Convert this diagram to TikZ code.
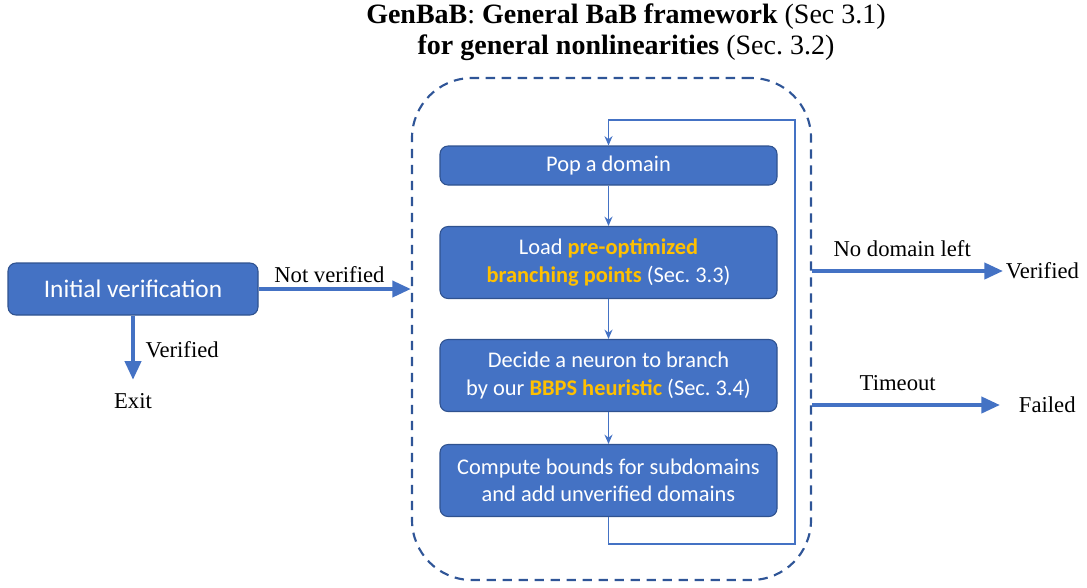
\documentclass[tikz,border=0pt]{standalone}
\usepackage{fontspec}
\setmainfont{Liberation Serif}
\newfontfamily\boxfont{Carlito}
\usetikzlibrary{arrows.meta,positioning}
\definecolor{boxblue}{HTML}{4472C4}
\definecolor{edgeblue}{HTML}{2F528F}
\definecolor{framecol}{HTML}{2F5597}
\definecolor{hl}{HTML}{FFC000}
\newcommand{\hlt}[1]{\textcolor{hl}{\bfseries #1}}
\frenchspacing

\tikzset{
  blk/.style={draw=edgeblue, line width=0.8pt, fill=boxblue, rounded corners=6pt,
    text=white, align=center, inner sep=0pt,
    font=\boxfont\fontsize{16.8}{20.5}\selectfont},
  inblk/.style={blk, minimum width=252.75pt},
  thinarr/.style={draw=boxblue, line width=1.3pt, -{Stealth[length=7pt,width=6pt]}},
  thickarr/.style={draw=boxblue, line width=3pt, -{Triangle[length=14pt,width=12pt]}},
  lbl/.style={font=\fontsize{17}{20}\selectfont, inner sep=2pt},
}

\begin{document}
\begin{tikzpicture}[x=0.75pt,y=-0.75pt]
  \useasboundingbox (0,0) rectangle (1087,587);

  \node[font=\fontsize{21}{23}\selectfont, align=center] (title) at (626,32)
    {\textbf{GenBaB}: \textbf{General BaB framework} (Sec 3.1)\\
     \textbf{for general nonlinearities} (Sec. 3.2)};

  \node[draw=framecol, line width=1.6pt, dash pattern=on 7pt off 5pt,
        rounded corners=45pt, minimum width=299.25pt, minimum height=376.5pt]
        (frame) at (611.5,329) {};

  \node[blk, minimum width=187.5pt, minimum height=39pt,
        font=\boxfont\fontsize{19}{22}\selectfont] (init) at (133,289) {Initial verification};
  \node[lbl] (exit) at (133,401) {Exit};

  \node[inblk, minimum height=29.25pt] (pop) at (608.5,165.5) {Pop a domain};
  \node[inblk, minimum height=54pt] (load) at (608.5,262.5)
    {Load \hlt{pre-optimized}\\ \hlt{branching points} (Sec. 3.3)};
  \node[inblk, minimum height=54pt] (decide) at (608.5,375.5)
    {Decide a neuron to branch\\ by our \hlt{BBPS heuristic} (Sec. 3.4)};
  \node[inblk, minimum height=54pt] (comp) at (608.5,480.5)
    {Compute bounds for subdomains\\ and add unverified domains};

  \node[lbl, anchor=west] (ver) at (1003,271) {Verified};
  \node[lbl, anchor=west] (fail) at (1016,405) {Failed};

  \coordinate (loop) at (795,120);

  \draw[thickarr] (init.east) -- (frame.west |- init.east)
    node[lbl, midway, above, xshift=-4pt, yshift=1pt] {Not verified};
  \draw[thickarr, shorten >=8pt] (init.south) -- (exit.north)
    node[lbl, pos=0.45, right, xshift=6pt] {Verified};

  \path[thinarr] (pop) edge (load) (load) edge (decide) (decide) edge (comp);
  \draw[thinarr] (comp.south) -- ++(0,27) -| (loop) -| (pop.north);

  \draw[thickarr] (frame.east |- ver.west) -- (ver.west)
    node[lbl, midway, above, xshift=-4pt, yshift=7pt] {No domain left};
  \draw[thickarr, shorten >=12pt] (frame.east |- fail.west) -- (fail.west)
    node[lbl, pos=0.42, above, yshift=7pt] {Timeout};
\end{tikzpicture}
\end{document}
